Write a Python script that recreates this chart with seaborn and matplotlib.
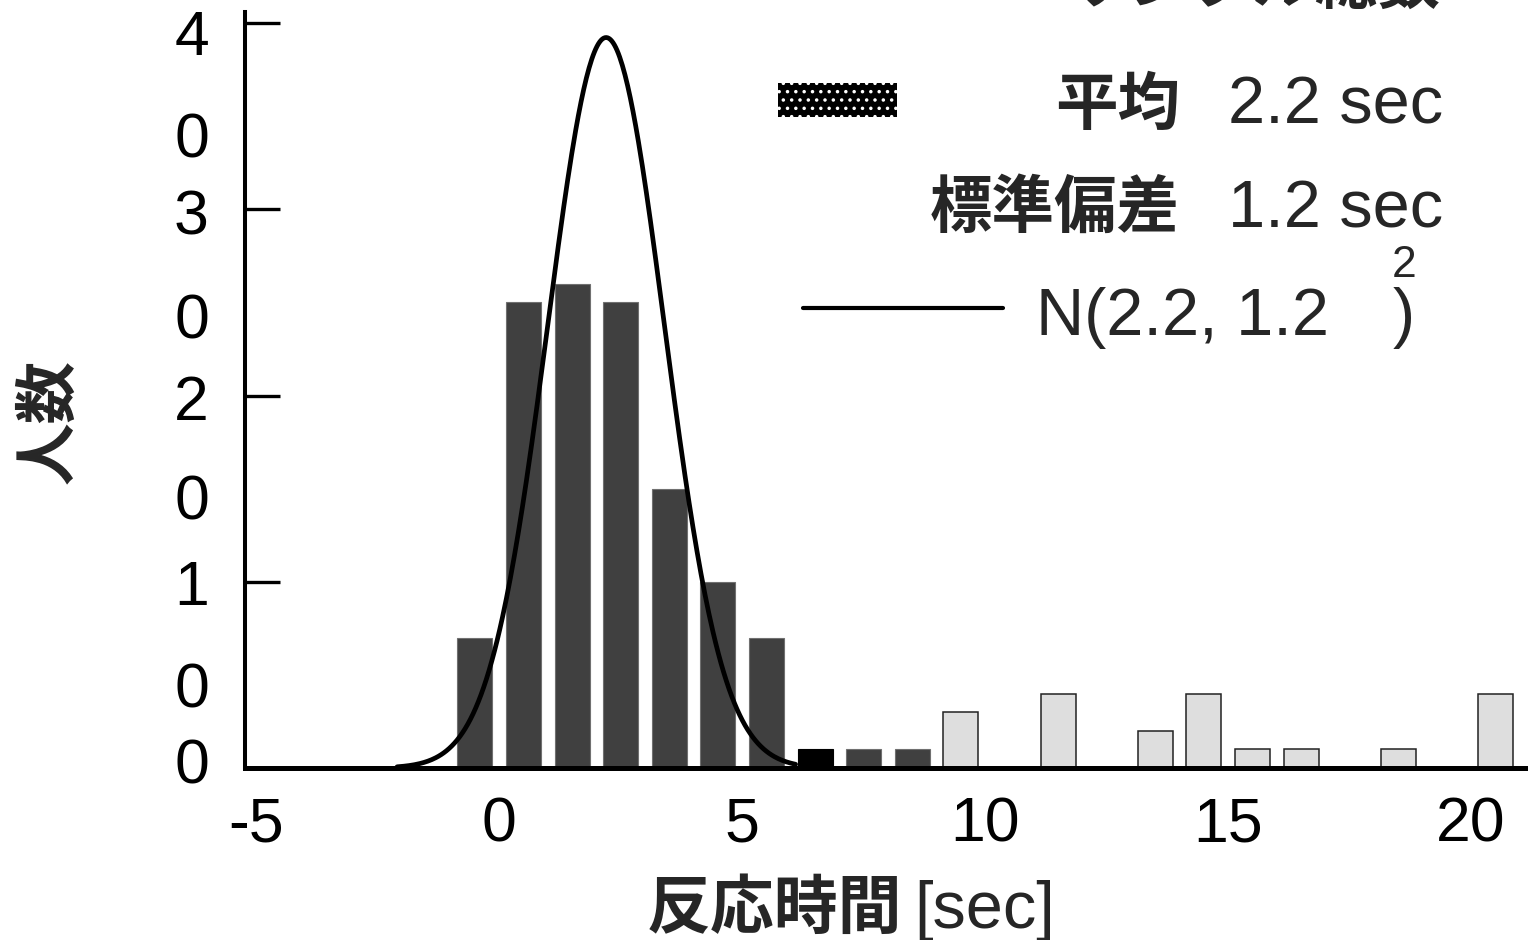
import numpy as np
import seaborn as sns
import matplotlib.pyplot as plt
from matplotlib.patches import Rectangle
from matplotlib.lines import Line2D

# bin centres [sec] and counts (people)
dark_x = [-0.5, 0.5, 1.5, 2.5, 3.5, 4.5, 5.5, 7.5, 8.5]
dark_n = [7, 25, 26, 25, 15, 10, 7, 1, 1]
black_x = [6.5]
black_n = [1]
light_x = [9.5, 11.5, 13.5, 14.5, 15.5, 16.5, 18.5, 20.5]
light_n = [3, 4, 2, 4, 1, 1, 1, 4]

# fitted normal from the legend
mu = 2.2
sd = 1.2
n_fit = sum(dark_n) + sum(black_n)

xticks = [-5, 0, 5, 10, 15, 20]
yticks = [0, 10, 20, 30, 40]
# the y labels are split digit by digit ("4" / "0" ...)
ylab_pos = [0.4, 4.5, 10.0, 14.6, 19.9, 24.3, 29.9, 34.0, 39.5]
ylab_txt = ['0', '0', '1', '0', '2', '0', '3', '0', '4']

sns.set_style('white')
plt.rcParams['font.family'] = ['Liberation Sans', 'Noto Sans CJK JP']
plt.rcParams['hatch.color'] = 'white'
plt.rcParams['hatch.linewidth'] = 1.3
JP = ['Noto Sans CJK JP', 'DejaVu Sans']

W, H = 1528, 940
fig = plt.figure(figsize=(W / 100, H / 100), dpi=100)
ax = fig.add_axes([245 / W, (H - 768) / H, 1 - 245 / W, (768 - 12) / H])

sns.barplot(x=dark_x, y=dark_n, native_scale=True, width=0.72, color='#404040',
            saturation=1, edgecolor='#707070', linewidth=0.8, errorbar=None, ax=ax)
sns.barplot(x=black_x, y=black_n, native_scale=True, width=0.72, color='black',
            saturation=1, edgecolor='black', linewidth=0.8, errorbar=None, ax=ax)
sns.barplot(x=light_x, y=light_n, native_scale=True, width=0.72, color='#dedede',
            saturation=1, edgecolor='#222222', linewidth=1.1, errorbar=None, ax=ax)

cx = np.linspace(-2.1, 6.1, 300)
cy = n_fit * np.exp(-(cx - mu) ** 2 / (2 * sd ** 2)) / (sd * np.sqrt(2 * np.pi))
sns.lineplot(x=cx, y=cy, color='black', linewidth=3.4, ax=ax, zorder=5)

ax.set_xlim(-5.23, 21.17)
ax.set_ylim(0, 40.6)
ax.set_xticks(xticks)
ax.set_xticklabels([str(t) for t in xticks])
ax.yaxis.remove_overlapping_locs = False
ax.set_yticks(yticks)
ax.set_yticklabels([])
ax.set_yticks(ylab_pos, minor=True)
ax.set_yticklabels(ylab_txt, minor=True)
ax.tick_params(axis='x', length=0, labelsize=45, pad=20, colors='black')
ax.tick_params(axis='y', which='major', direction='in', length=25, width=2.4,
               color='black', left=True)
ax.tick_params(axis='y', which='minor', length=0, labelsize=45, pad=26,
               labelcolor='black', left=True)
ax.set_xlabel('')
ax.set_ylabel('')
for s in ['top', 'right']:
    ax.spines[s].set_visible(False)
ax.spines['left'].set_linewidth(2.9)
ax.spines['bottom'].set_linewidth(3.6)
for s in ['left', 'bottom']:
    ax.spines[s].set_color('black')
    ax.spines[s].set_zorder(6)


def fx(px):
    return px / W


def fy(py):
    return 1 - py / H


# axis titles
fig.text(fx(49), fy(422), '人数', rotation=90, ha='center', va='center',
         fontsize=45, fontweight='bold', family=JP)
fig.text(fx(902), fy(928), '反応時間', ha='right', va='baseline',
         fontsize=46, fontweight='bold', family=JP)
fig.text(fx(914), fy(928), '[sec]', ha='left', va='baseline', fontsize=48)

# legend block (top right)
fig.text(fx(1440), fy(3), 'サンプル総数', ha='right', va='baseline',
         fontsize=45, fontweight='bold', family=JP)
fig.patches.append(Rectangle((fx(778), fy(117)), 119 / W, 34 / H, transform=fig.transFigure,
                             facecolor='black', edgecolor='white', linewidth=0, hatch='..'))
fig.text(fx(1180), fy(124), '平均', ha='right', va='baseline',
         fontsize=45, fontweight='bold', family=JP)
fig.text(fx(1443), fy(124), '2.2 sec', ha='right', va='baseline', fontsize=48)
fig.text(fx(1180), fy(227), '標準偏差', ha='right', va='baseline',
         fontsize=45, fontweight='bold', family=JP)
fig.text(fx(1443), fy(227), '1.2 sec', ha='right', va='baseline', fontsize=48)
fig.add_artist(Line2D([fx(803), fx(1003)], [fy(308), fy(308)], color='black',
                      linewidth=3.0, transform=fig.transFigure))
fig.text(fx(1036), fy(335), 'N(2.2, 1.2', ha='left', va='baseline', fontsize=48)
fig.text(fx(1404), fy(277), '2', ha='center', va='baseline', fontsize=32)
fig.text(fx(1404), fy(335), ')', ha='center', va='baseline', fontsize=48)

fig.savefig('out.png', dpi=100)
